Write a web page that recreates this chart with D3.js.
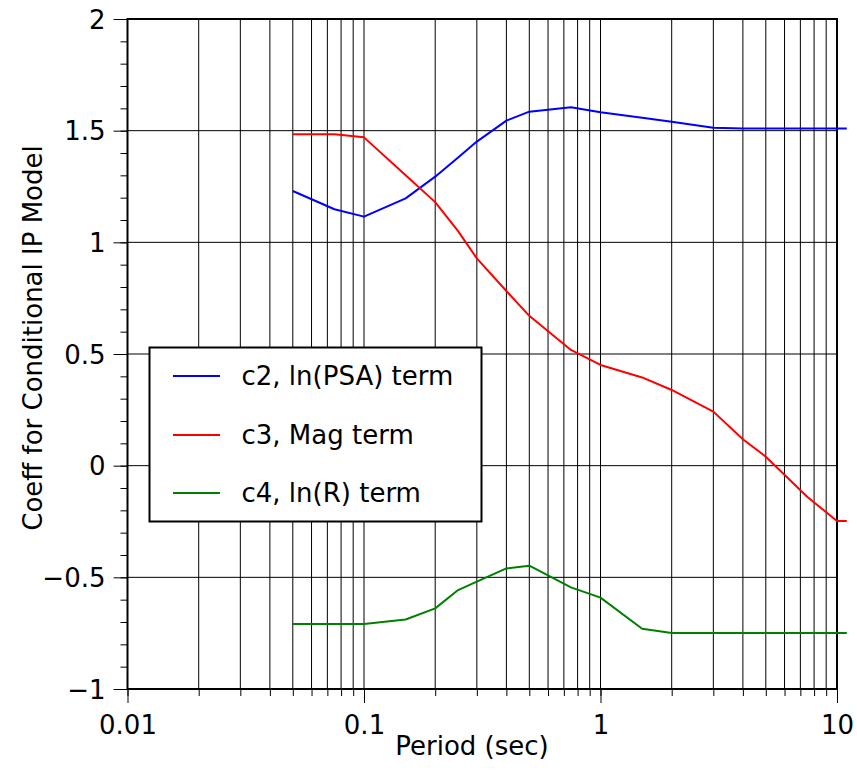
<!DOCTYPE html>
<html><head><meta charset="utf-8">
<script src="https://cdn.jsdelivr.net/npm/d3@7"></script>
<style>body{margin:0;background:#fff} svg{display:block} text{font-family:"DejaVu Sans",sans-serif;fill:#000}</style>
</head><body><svg id="c" width="857" height="780"></svg>
<script>
const periods = [0.05,0.075,0.1,0.15,0.2,0.25,0.3,0.4,0.5,0.75,1,1.5,2,3,4,5,7.5,10,11];
const c2 = [1.23,1.148,1.115,1.197,1.294,1.38,1.451,1.545,1.585,1.605,1.582,1.558,1.54,1.513,1.51,1.51,1.51,1.51,1.51];
const c3 = [1.484,1.484,1.47,1.30,1.18,1.05,0.928,0.782,0.671,0.518,0.451,0.395,0.339,0.242,0.118,0.04,-0.14,-0.248,-0.248];
const c4 = [-0.709,-0.709,-0.709,-0.689,-0.639,-0.557,-0.519,-0.46,-0.448,-0.545,-0.591,-0.73,-0.749,-0.749,-0.749,-0.749,-0.749,-0.749,-0.749];
const seriesNames = ["c2, ln(PSA) term","c3, Mag term","c4, ln(R) term"];
const seriesColors = ["#0000ff","#ff0000","#008000"];
const xMajorTicks = [0.01,0.1,1,10];
const xTickLabels = ["0.01","0.1","1","10"];
const yMajorTicks = [-1,-0.5,0,0.5,1,1.5,2];
const yTickLabels = ["\u22121","\u22120.5","0","0.5","1","1.5","2"];
const xLabel = "Period (sec)";
const yLabel = "Coeff for Conditional IP Model";

const svg = d3.select("#c");
const L = 127.5, R = 837, T = 19, B = 689;
const x = d3.scaleLog().domain([0.01,10]).range([L,R]);
const y = d3.scaleLinear().domain([-1,2]).range([B,T]);

// minor tick positions
const xMinor = [];
[0.01,0.1,1].forEach(d => { for (let k=1;k<=9;k++) xMinor.push(+(d*k).toPrecision(6)); });
xMinor.push(10);
const yMinor = d3.range(-10,21).map(i => i/10);

// grid
const g = svg.append("g");
g.selectAll(".vg").data(xMinor).join("line")
  .attr("x1", d=>x(d)).attr("x2", d=>x(d)).attr("y1", T).attr("y2", B)
  .attr("stroke","#000").attr("stroke-width",1);
g.selectAll(".hg").data(yMajorTicks).join("line")
  .attr("x1", L).attr("x2", R).attr("y1", d=>y(d)).attr("y2", d=>y(d))
  .attr("stroke","#000").attr("stroke-width",1);

// axes
const fontTick = 26;
const xAxisMinor = d3.axisBottom(x).tickValues(xMinor).tickSize(7).tickFormat("");
const xAxisMajor = d3.axisBottom(x).tickValues(xMajorTicks).tickSize(14).tickFormat((d,i)=>xTickLabels[i]);
const yAxisMinor = d3.axisLeft(y).tickValues(yMinor).tickSize(7).tickFormat("");
const yAxisMajor = d3.axisLeft(y).tickValues(yMajorTicks).tickSize(14).tickFormat((d,i)=>yTickLabels[i]);

function styleAxis(sel){
  sel.select(".domain").remove();
  sel.selectAll(".tick line").attr("stroke","#000").attr("stroke-width",1);
}
svg.append("g").attr("transform",`translate(0,${B})`).call(xAxisMinor).call(styleAxis);
const xa = svg.append("g").attr("transform",`translate(0,${B})`).call(xAxisMajor).call(styleAxis);
xa.selectAll(".tick text").attr("font-size",fontTick).attr("font-family","DejaVu Sans").attr("fill","#000")
  .attr("y",null).attr("dy",null).attr("transform","translate(0,45)");
svg.append("g").attr("transform",`translate(${L},0)`).call(yAxisMinor).call(styleAxis);
const ya = svg.append("g").attr("transform",`translate(${L},0)`).call(yAxisMajor).call(styleAxis);
ya.selectAll(".tick text").attr("font-size",fontTick).attr("font-family","DejaVu Sans").attr("fill","#000")
  .attr("x",-22).attr("dy","0.35em");

// frame
svg.append("rect").attr("x",L).attr("y",T).attr("width",R-L).attr("height",B-T)
  .attr("fill","none").attr("stroke","#000").attr("stroke-width",2);

// series lines
const line = d3.line().x(d=>x(d[0])).y(d=>y(d[1]));
[c2,c3,c4].forEach((s,i)=>{
  svg.append("path").datum(periods.map((p,j)=>[p,s[j]]))
    .attr("d",line).attr("fill","none").attr("stroke",seriesColors[i]).attr("stroke-width",2)
    .attr("stroke-linejoin","round");
});

// axis labels
svg.append("text").attr("x",472).attr("y",755).attr("text-anchor","middle")
  .attr("font-size",26).text(xLabel);
svg.append("text").attr("transform","translate(42,338) rotate(-90)").attr("text-anchor","middle")
  .attr("font-size",26).text(yLabel);

// legend
const lg = svg.append("g");
lg.append("rect").attr("x",149.5).attr("y",347.5).attr("width",332).attr("height",174)
  .attr("fill","#fff").attr("stroke","#000").attr("stroke-width",2);
const ly = [376,435,493];
seriesNames.forEach((n,i)=>{
  lg.append("line").attr("x1",173).attr("x2",220).attr("y1",ly[i]).attr("y2",ly[i])
    .attr("stroke",seriesColors[i]).attr("stroke-width",2);
  lg.append("text").attr("x",241.5).attr("y",ly[i]).attr("dy","0.35em")
    .attr("font-size",26).text(n);
});
</script></body></html>
